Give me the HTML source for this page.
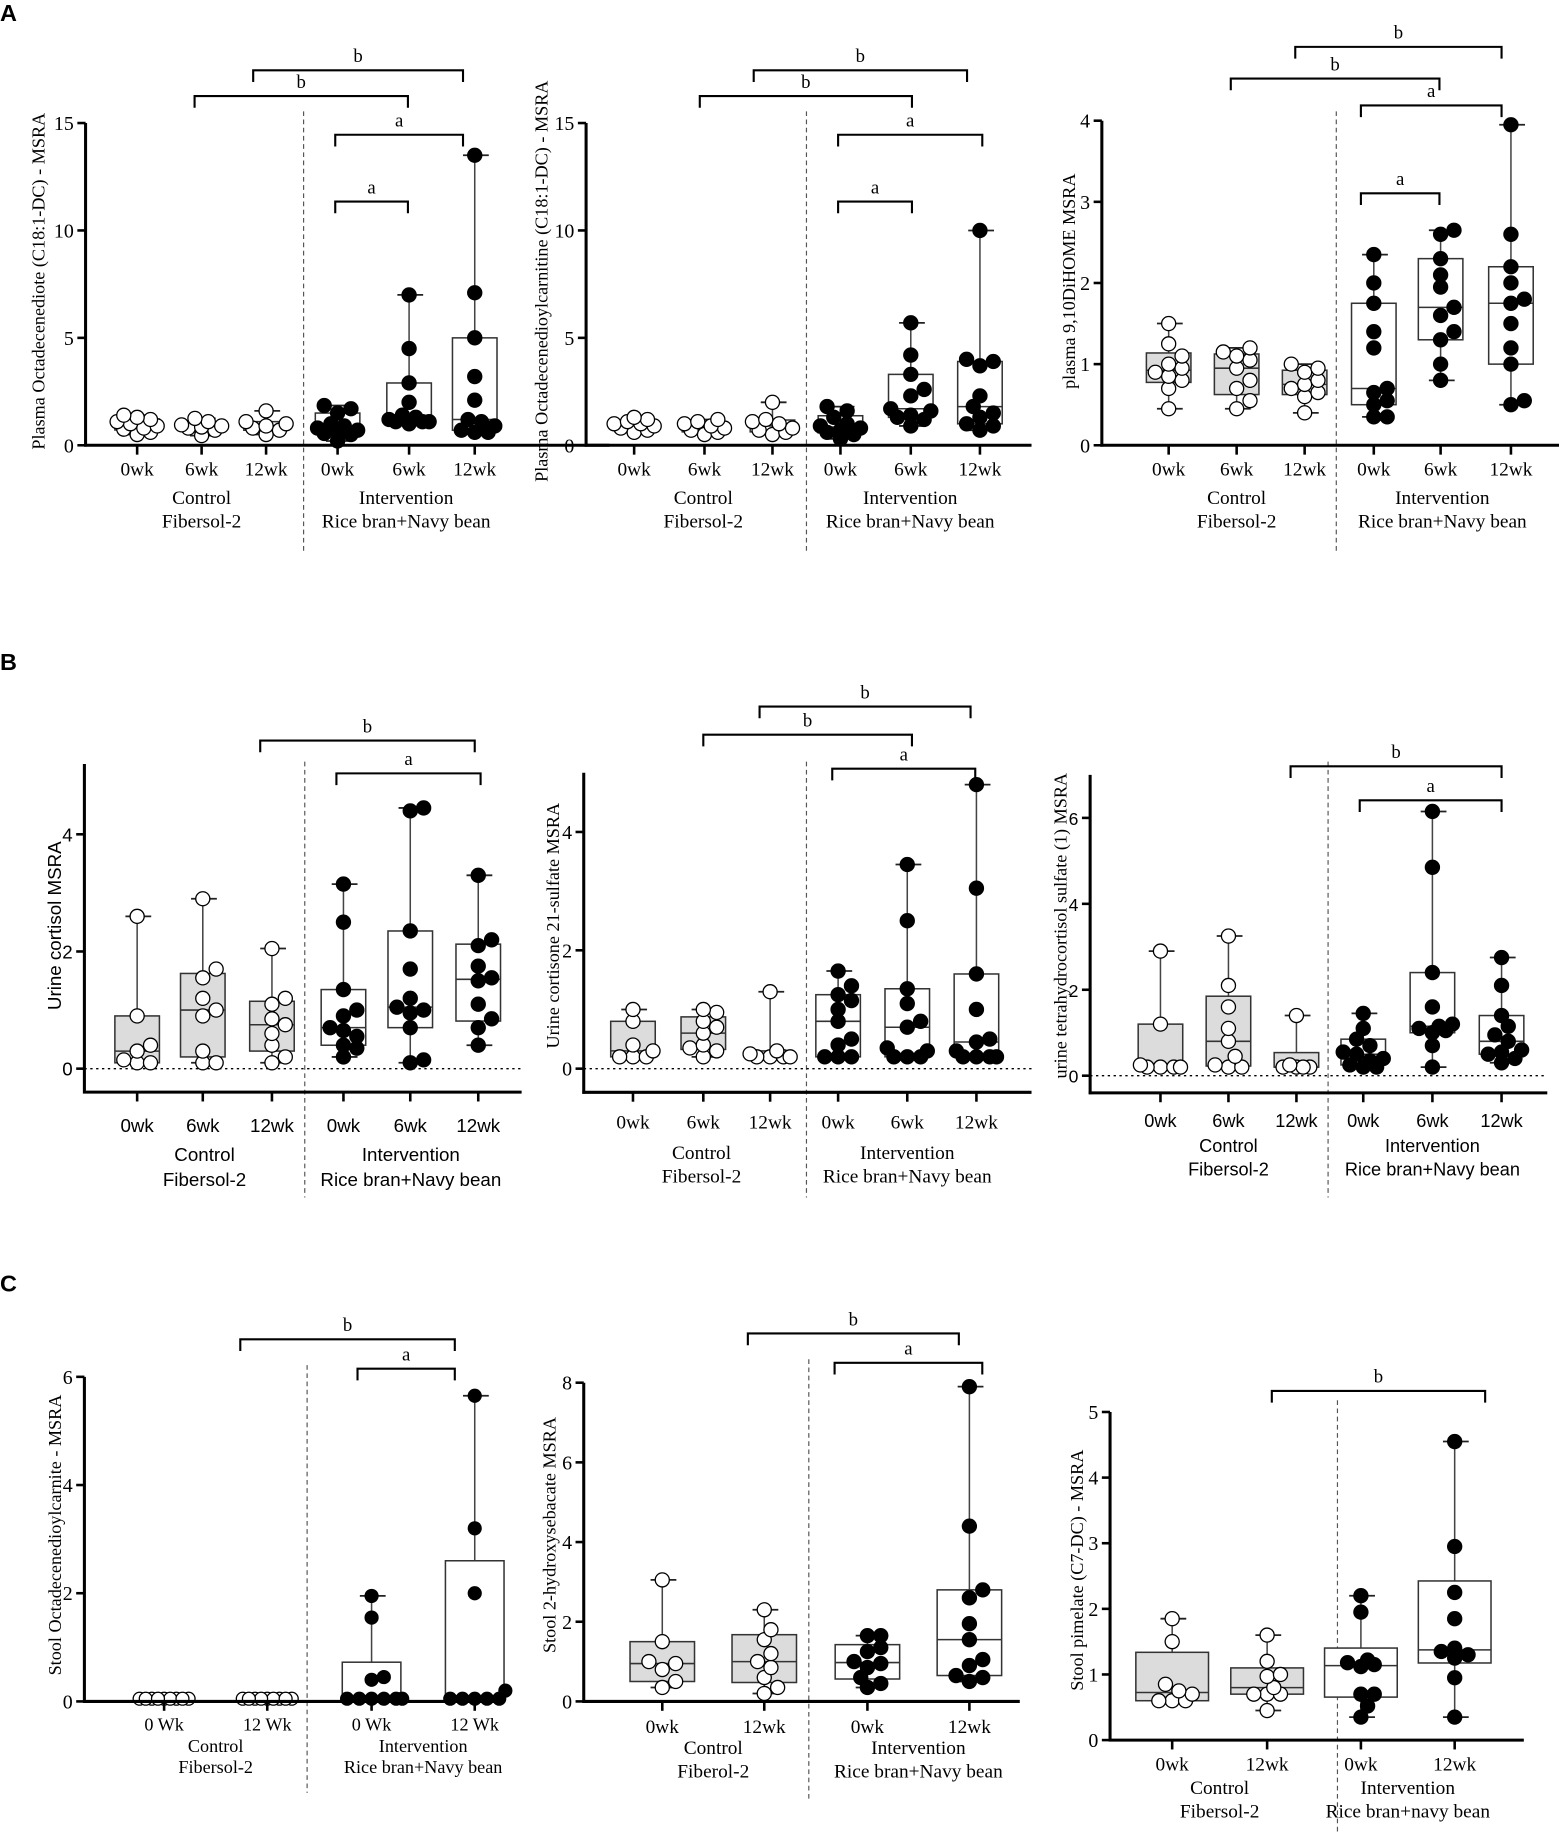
<!DOCTYPE html>
<html><head><meta charset="utf-8"><style>
html,body{margin:0;padding:0;background:#fff}
svg{display:block}
</style></head><body>
<svg id="fig" width="1559" height="1835" viewBox="0 0 1330 1566" preserveAspectRatio="none" xmlns="http://www.w3.org/2000/svg"></svg>
<script>
// ---- data (MSRA values per group) ----
const a1Ctrl0=[0.5,0.6,0.75,0.8,0.9,1.0,1.1,1.2,1.3,1.4];
const a1Ctrl6=[0.45,0.7,0.8,0.85,0.9,0.95,1.1,1.25];
const a1Ctrl12=[0.5,0.7,0.8,0.9,1.0,1.1,1.6];
const a1Int0=[0.2,0.5,0.55,0.6,0.7,0.8,0.9,1.0,1.5,1.7,1.85];
const a1Int6=[1.0,1.1,1.1,1.1,1.2,1.3,1.4,2.0,2.9,4.5,7.0];
const a1Int12=[0.6,0.6,0.7,0.9,1.1,1.2,2.1,3.2,5.0,7.1,13.5];

const a2Ctrl0=[0.6,0.7,0.8,0.9,1.0,1.0,1.1,1.2,1.3];
const a2Ctrl6=[0.5,0.6,0.7,0.8,0.9,1.0,1.1,1.2];
const a2Ctrl12=[0.5,0.6,0.7,0.8,1.0,1.1,1.2,2.0];
const a2Int0=[0.3,0.5,0.6,0.7,0.8,0.9,1.0,1.3,1.6,1.8];
const a2Int6=[0.9,1.2,1.3,1.4,1.6,1.7,2.3,2.6,3.3,4.2,5.7];
const a2Int12=[0.7,0.9,1.0,1.3,1.5,1.8,2.3,3.7,3.9,4.0,10.0];

const a3Ctrl0=[0.45,0.7,0.8,0.85,0.9,0.95,1.0,1.1,1.25,1.5];
const a3Ctrl6=[0.45,0.55,0.7,0.8,0.95,1.05,1.1,1.15,1.2];
const a3Ctrl12=[0.4,0.6,0.65,0.7,0.75,0.8,0.9,0.95,1.0];
const a3Int0=[0.35,0.35,0.5,0.55,0.65,0.7,1.2,1.4,1.75,2.0,2.35];
const a3Int6=[0.8,1.0,1.3,1.4,1.6,1.7,1.95,2.1,2.3,2.6,2.65];
const a3Int12=[0.5,0.55,1.0,1.2,1.5,1.75,1.8,2.0,2.2,2.6,3.95];

const b1Ctrl0=[0.1,0.1,0.15,0.3,0.4,0.9,2.6];
const b1Ctrl6=[0.1,0.1,0.3,0.9,1.0,1.2,1.55,1.7,2.9];
const b1Ctrl12=[0.1,0.2,0.4,0.6,0.75,0.85,1.1,1.2,2.05];
const b1Int0=[0.2,0.35,0.4,0.55,0.65,0.7,0.9,1.0,1.35,2.5,3.15];
const b1Int6=[0.1,0.15,0.7,0.95,1.0,1.05,1.2,1.7,2.35,4.4,4.45];
const b1Int12=[0.4,0.7,0.85,1.1,1.5,1.55,1.75,2.1,2.2,3.3];

const b2Ctrl0=[0.2,0.2,0.2,0.3,0.4,0.8,1.0];
const b2Ctrl6=[0.2,0.3,0.35,0.4,0.6,0.7,0.8,0.95,1.0];
const b2Ctrl12=[0.2,0.2,0.2,0.2,0.25,0.3,1.3];
const b2Int0=[0.2,0.2,0.2,0.4,0.5,0.8,1.0,1.15,1.25,1.4,1.65];
const b2Int6=[0.2,0.2,0.2,0.3,0.35,0.7,0.8,1.1,1.35,2.5,3.45];
const b2Int12=[0.2,0.2,0.2,0.2,0.3,0.45,0.5,1.0,1.6,3.05,4.8];

const b3Ctrl0=[0.2,0.2,0.2,0.2,0.25,1.2,2.9];
const b3Ctrl6=[0.2,0.2,0.25,0.45,0.8,1.1,1.6,2.1,3.25];
const b3Ctrl12=[0.2,0.2,0.2,0.2,0.25,1.4];
const b3Int0=[0.2,0.2,0.25,0.35,0.4,0.5,0.55,0.7,0.85,1.1,1.45];
const b3Int6=[0.2,0.7,1.0,1.05,1.1,1.15,1.2,1.6,2.4,4.85,6.15];
const b3Int12=[0.3,0.4,0.5,0.55,0.6,0.8,0.95,1.15,1.4,2.1,2.75];

const c1Ctrl0=[0.05,0.05,0.05,0.05,0.05,0.05,0.05,0.05,0.05];
const c1Ctrl12=[0.05,0.05,0.05,0.05,0.05,0.05,0.05,0.05,0.05];
const c1Int0=[0.05,0.05,0.05,0.05,0.05,0.05,0.4,0.45,1.55,1.95];
const c1Int12=[0.05,0.05,0.05,0.05,0.05,0.2,2.0,3.2,5.65];

const c2Ctrl0=[0.35,0.5,0.8,0.95,1.0,1.5,3.05];
const c2Ctrl12=[0.2,0.35,0.6,0.85,1.0,1.2,1.55,1.8,2.3];
const c2Int0=[0.35,0.45,0.6,0.85,0.95,1.0,1.25,1.35,1.65,1.65];
const c2Int12=[0.5,0.6,0.65,0.9,1.05,1.55,1.95,2.6,2.8,4.4,7.9];

const c3Ctrl0=[0.6,0.6,0.6,0.7,0.75,0.85,1.5,1.85];
const c3Ctrl12=[0.45,0.7,0.7,0.7,0.8,0.97,1.0,1.2,1.6];
const c3Int0=[0.35,0.52,0.7,0.7,1.12,1.15,1.18,1.22,1.95,2.2];
const c3Int12=[0.35,0.95,1.25,1.3,1.35,1.4,1.85,2.25,2.95,4.55];

const tickA12=[0,5,10,15];
const tickA3=[0,1,2,3,4];
const tickB12=[0,2,4];
const tickB3=[0,2,4,6];
const tickC1=[0,2,4,6];
const tickC2=[0,2,4,6,8];
const tickC3=[0,1,2,3,4,5];
const catLabels3=["0wk","6wk","12wk","0wk","6wk","12wk"];
const catLabels2=["0wk","12wk","0wk","12wk"];
const catLabelsC1=["0 Wk","12 Wk","0 Wk","12 Wk"];

const SERIF='"Liberation Serif", serif', SANS='"Liberation Sans", sans-serif';
const svg=document.getElementById('fig');
const NS='http://www.w3.org/2000/svg';
function mk(tag,attrs,parent){const e=document.createElementNS(NS,tag);for(const k in attrs)e.setAttribute(k,attrs[k]);(parent||svg).appendChild(e);return e;}
function txt(s,x,y,size,font,parent,anchor,rot){const e=mk('text',{x:x,y:y,'font-size':size,'font-family':font,'text-anchor':anchor||'middle',fill:'#000'},parent);if(rot)e.setAttribute('transform','rotate(-90 '+x+' '+y+')');e.textContent=s;return e;}
function quant(a,p){const s=[...a].sort((x,y)=>x-y);const pos=(s.length+1)*p-1;if(pos<=0)return s[0];if(pos>=s.length-1)return s[s.length-1];const lo=Math.floor(pos);return s[lo]+(pos-lo)*(s[lo+1]-s[lo]);}

function panel(P){
  const g=mk('g',{});
  
  
  const topTick=P.ticks[P.ticks.length-1];
  const k=(P.zeroY-P.topY)/topTick;
  const y=v=>P.zeroY-v*k;
  const axisBottom=y(P.vmin), axisTop=y(P.vmax);
  const xAxisY=P.vmin<0?axisBottom:P.zeroY;
  const dv=mk('line',{x1:P.div,x2:P.div,y1:P.divTop,y2:P.divBot,stroke:'#555','stroke-width':1,'stroke-dasharray':'4,3'},g);
  
  
  if(P.vmin<0){const zl=mk('line',{x1:P.ax,x2:P.x1,y1:P.zeroY,y2:P.zeroY,stroke:'#000','stroke-width':1.2,'stroke-dasharray':'2,3'},g);
    
    }
  P.groups.forEach((arr,i)=>{
    const cx=P.cats[i], filled=i>=P.cats.length/2;
    const gg=mk('g',{},g);
    
    
    const mn=Math.min(...arr),mx=Math.max(...arr),q1=quant(arr,0.25),md=quant(arr,0.5),q3=quant(arr,0.75);
    const bw=P.bw;
    if(!(P.noBoxCtrl&&!filled)){
      mk('line',{x1:cx,x2:cx,y1:y(mx),y2:y(mn),stroke:'#444','stroke-width':1.3},gg);
      mk('line',{x1:cx-10,x2:cx+12,y1:y(mx),y2:y(mx),stroke:'#222','stroke-width':1.5},gg);
      mk('line',{x1:cx-10,x2:cx+12,y1:y(mn),y2:y(mn),stroke:'#222','stroke-width':1.5},gg);
      const b=mk('rect',{x:cx-bw/2,y:y(q3),width:bw,height:Math.max(1,y(q1)-y(q3)),fill:(!filled&&P.grayCtrl)?'#dcdcdc':'#fff',stroke:'#333','stroke-width':1.3},gg);
      
      
      mk('line',{x1:cx-bw/2,x2:cx+bw/2,y1:y(md),y2:y(md),stroke:'#333','stroke-width':1.3},gg);
    }
    // compact beeswarm (overlap allowed, limited width)
    const r=P.r, placed=[], step=r*0.95, maxS=P.maxSteps||3;
    [...arr].sort((a,b)=>a-b).forEach(v=>{
      const py=y(v);
      const cand=[0];for(let s=1;s<=maxS;s++){cand.push(s*step,-s*step);}
      let best=0,bestD=-1;
      for(const o of cand){
        const d=placed.length?Math.min(...placed.map(p=>Math.hypot(p[0]-(cx+o),p[1]-py))):1e9;
        if(d>=r*1.6){best=o;bestD=1e9;break;}
        if(d>bestD){bestD=d;best=o;}
      }
      const px=cx+best;
      placed.push([px,py]);
      const c=mk('circle',{cx:px,cy:py,r:r,fill:filled?'#000':'#fff',stroke:'#000','stroke-width':1.1},gg);
      
      
    });
  });
  const ya=mk('line',{x1:P.ax,x2:P.ax,y1:axisTop,y2:axisBottom+1.2,stroke:'#000','stroke-width':2.6},g);
  
  
  const xa=mk('line',{x1:P.ax-1.2,x2:P.x1,y1:xAxisY,y2:xAxisY,stroke:'#000','stroke-width':2.6},g);
  
  
  P.ticks.forEach(t=>{
    mk('line',{x1:P.ax-7,x2:P.ax,y1:y(t),y2:y(t),stroke:'#000','stroke-width':2.2},g);
    const tl=txt(String(t),P.ax-10,y(t)+6,P.tickSize,P.tickFont,g,'end');
    
    
  });
  P.cats.forEach((cx,i)=>{
    mk('line',{x1:cx,x2:cx,y1:xAxisY,y2:xAxisY+8,stroke:'#000','stroke-width':2.2},g);
    const tl=txt(P.labels[i],cx,P.labY,P.labSize,P.labFont,g);
    
    
  });
  const n=P.cats.length/2;
  const cc=(P.cats[0]+P.cats[n-1])/2, ic=(P.cats[n]+P.cats[2*n-1])/2;
  [[P.ctrl1,cc,P.g1Y],[P.ctrl2,cc,P.g2Y],[P.int1,ic,P.g1Y],[P.int2,ic,P.g2Y]].forEach(a=>{
    const t=txt(a[0],a[1],a[2],P.labSize,P.labFont,g);
    
    
  });
  const yl=txt(P.ylabel,P.ylx,P.yly,P.ylSize,P.ylFont,g,'middle',true);
  
  
  P.brackets.forEach(b=>{
    const bg=mk('g',{},g);
    
    
    mk('path',{d:`M${b[0]},${b[2]+10} V${b[2]} H${b[1]} V${b[2]+10}`,fill:'none',stroke:'#000','stroke-width':1.8},bg);
    txt(b[3],(b[0]+b[1])/2,b[2]-7,P.sigSize,SERIF,bg);
  });
}

const base={r:6,bw:38,tickSize:17,labSize:16.5,ylSize:15.5,sigSize:16,tickFont:SERIF,labFont:SERIF,ylFont:SERIF,grayCtrl:true,
  ctrl1:'Control',ctrl2:'Fibersol-2',int1:'Intervention',int2:'Rice bran+Navy bean'};

panel(Object.assign({},base,{name:'panel-a1',ax:73,x1:520,zeroY:380,topY:105,ticks:tickA12,vmin:0,vmax:15,grayCtrl:false,
  cats:[117,172,227,288,349,405],labels:catLabels3,groups:[a1Ctrl0,a1Ctrl6,a1Ctrl12,a1Int0,a1Int6,a1Int12],
  div:259,divTop:95,divBot:470,labY:406,g1Y:430,g2Y:450,ylabel:'Plasma Octadecenediote (C18:1-DC) - MSRA',ylx:38,yly:240,
  brackets:[[216,395,60,'b'],[166,348,82,'b'],[286,395,115,'a'],[286,348,172,'a']]}));
panel(Object.assign({},base,{name:'panel-a2',ax:500,x1:880,zeroY:380,topY:105,ticks:tickA12,vmin:0,vmax:15,grayCtrl:false,
  cats:[541,601,659,717,777,836],labels:catLabels3,groups:[a2Ctrl0,a2Ctrl6,a2Ctrl12,a2Int0,a2Int6,a2Int12],
  div:688,divTop:95,divBot:470,labY:406,g1Y:430,g2Y:450,ylabel:'Plasma Octadecenedioylcarnitine (C18:1-DC) - MSRA',ylx:467,yly:240,
  brackets:[[643,825,60,'b'],[597,778,82,'b'],[715,838,115,'a'],[715,778,172,'a']]}));
panel(Object.assign({},base,{name:'panel-a3',ax:940,x1:1330,zeroY:380,topY:103,ticks:tickA3,vmin:0,vmax:4,
  cats:[997,1055,1113,1172,1229,1289],labels:catLabels3,groups:[a3Ctrl0,a3Ctrl6,a3Ctrl12,a3Int0,a3Int6,a3Int12],
  div:1140,divTop:95,divBot:470,labY:406,g1Y:430,g2Y:450,ylabel:'plasma 9,10DiHOME MSRA',ylx:917,yly:240,
  brackets:[[1105,1281,40,'b'],[1050,1228,67,'b'],[1161,1281,90,'a'],[1161,1228,165,'a']]}));

panel(Object.assign({},base,{name:'panel-b1',ax:72,x1:445,zeroY:912,topY:712,ticks:tickB12,vmin:-0.4,vmax:5.2,
  tickFont:SANS,labFont:SANS,ylFont:SANS,tickSize:16,labSize:16,ylSize:16,
  cats:[117,173,232,293,350,408],labels:catLabels3,groups:[b1Ctrl0,b1Ctrl6,b1Ctrl12,b1Int0,b1Int6,b1Int12],
  div:260,divTop:650,divBot:1022,labY:966,g1Y:991,g2Y:1012,ylabel:'Urine cortisol MSRA',ylx:52,yly:790,
  brackets:[[222,405,632,'b'],[287,410,660,'a']]}));
panel(Object.assign({},base,{name:'panel-b2',ax:498,x1:880,zeroY:912,topY:710,ticks:tickB12,vmin:-0.4,vmax:5.0,
  cats:[540,600,657,715,774,833],labels:catLabels3,groups:[b2Ctrl0,b2Ctrl6,b2Ctrl12,b2Int0,b2Int6,b2Int12],
  div:688,divTop:650,divBot:1022,labY:963,g1Y:989,g2Y:1009,ylabel:'Urine cortisone 21-sulfate MSRA',ylx:477,yly:790,
  brackets:[[648,828,603,'b'],[600,778,627,'b'],[710,832,656,'a']]}));
panel(Object.assign({},base,{name:'panel-b3',ax:930,x1:1320,zeroY:918,topY:698,ticks:tickB3,vmin:-0.4,vmax:7,
  tickFont:SANS,labFont:SANS,tickSize:15,labSize:15.5,
  cats:[990,1048,1106,1163,1222,1281],labels:catLabels3,groups:[b3Ctrl0,b3Ctrl6,b3Ctrl12,b3Int0,b3Int6,b3Int12],
  div:1133,divTop:650,divBot:1022,labY:962,g1Y:983,g2Y:1003,ylabel:'urine tetrahydrocortisol sulfate (1) MSRA',ylx:910,yly:790,
  brackets:[[1101,1281,654,'b'],[1160,1281,683,'a']]}));

panel(Object.assign({},base,{name:'panel-c1',ax:72,x1:430,zeroY:1452,topY:1175,ticks:tickC1,vmin:0,vmax:6,noBoxCtrl:true,bw:50,r:5.5,maxSteps:5,
  cats:[140,228,317,405],labels:catLabelsC1,groups:[c1Ctrl0,c1Ctrl12,c1Int0,c1Int12],labSize:15.5,
  div:262,divTop:1165,divBot:1530,labY:1477,g1Y:1495,g2Y:1513,ylabel:'Stool Octadecenedioylcarnite - MSRA',ylx:52,yly:1310,
  brackets:[[205,388,1143,'b'],[305,388,1168,'a']]}));
panel(Object.assign({},base,{name:'panel-c2',ax:498,x1:870,zeroY:1452,topY:1180,ticks:tickC2,vmin:0,vmax:8,bw:55,
  cats:[565,652,740,827],labels:catLabels2,groups:[c2Ctrl0,c2Ctrl12,c2Int0,c2Int12],
  div:690,divTop:1160,divBot:1535,labY:1479,g1Y:1497,g2Y:1517,ctrl2:'Fiberol-2',ylabel:'Stool 2-hydroxysebacate MSRA',ylx:474,yly:1310,
  brackets:[[638,818,1138,'b'],[712,838,1163,'a']]}));
panel(Object.assign({},base,{name:'panel-c3',ax:947,x1:1300,zeroY:1485,topY:1205,ticks:tickC3,vmin:0,vmax:5,bw:62,
  cats:[1000,1081,1161,1241],labels:catLabels2,groups:[c3Ctrl0,c3Ctrl12,c3Int0,c3Int12],int2:'Rice bran+navy bean',
  div:1141,divTop:1195,divBot:1566,labY:1511,g1Y:1531,g2Y:1551,ylabel:'Stool pimelate (C7-DC) - MSRA',ylx:924,yly:1340,
  brackets:[[1085,1267,1187,'b']]}));

[['A',0,18],['B',0,572],['C',0,1102]].forEach(p=>{
  const t=mk('text',{x:p[1],y:p[2],'font-size':20,'font-weight':'bold','font-family':SANS,fill:'#000'});
  
  
  t.textContent=p[0];
});
</script>
</body></html>
